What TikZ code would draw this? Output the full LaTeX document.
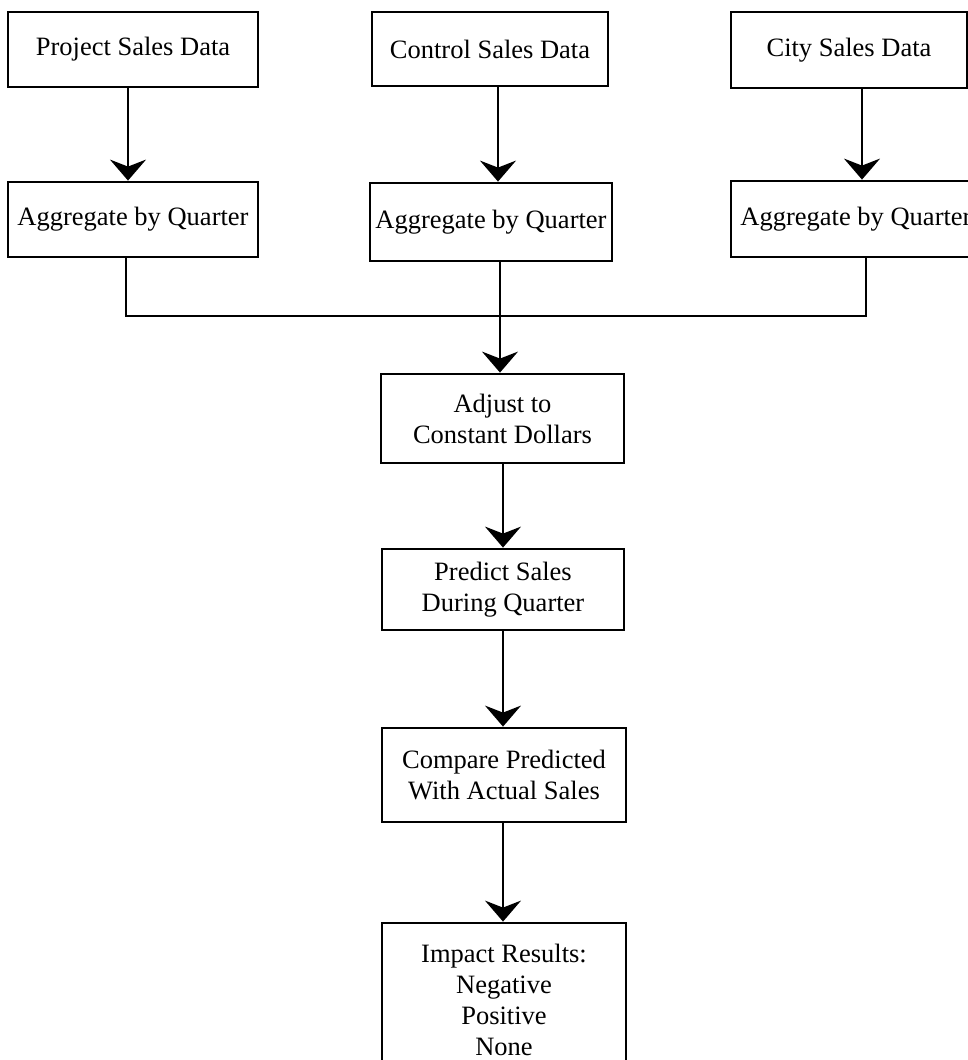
\documentclass[tikz,border=0pt]{standalone}
\usepackage{fontspec}
\setmainfont{Liberation Serif}
\usetikzlibrary{arrows.meta}
\begin{document}
\begin{tikzpicture}[x=1pt,y=-1pt,
  box/.style={draw, line width=2.8pt, inner sep=0pt, align=center,
    font=\fontsize{26.5}{31}\selectfont},
  link/.style={line width=2pt},
  arr/.style={link, -{Stealth[length=21pt, width=36pt, inset=7pt]}}]
\useasboundingbox (0,0) rectangle (968,1060);
\clip (0,0) rectangle (968,1060);
\fill[white] (0,0) rectangle (968,1060);

% data sources
\node[box, minimum width=250pt, minimum height=75pt] (p1) at (133,49.5) {Project Sales Data};
\node[box, minimum width=236pt, minimum height=74pt] (c1) at (490,49) {Control Sales Data};
\node[box, minimum width=236pt, minimum height=76pt] (y1) at (849,50) {City Sales Data};

% quarterly aggregation
\node[box, minimum width=250pt, minimum height=75pt] (p2) at (133,219.5) {Aggregate by Quarter};
\node[box, minimum width=242pt, minimum height=78pt] (c2) at (491,222) {Aggregate by Quarter};
\node[box, minimum width=250pt, minimum height=76pt] (y2) at (856,219) {Aggregate by Quarter};

% processing chain
\node[box, minimum width=243pt, minimum height=89pt] (adj) at (502.5,418.5) {Adjust to\\Constant Dollars};
\node[box, minimum width=242pt, minimum height=81pt] (pred) at (503,589.5) {Predict Sales\\During Quarter};
\node[box, minimum width=244pt, minimum height=94pt] (cmp) at (504,775) {Compare Predicted\\With Actual Sales};
\node[box, minimum width=244pt, minimum height=154pt] (imp) at (504,1000) {Impact Results:\\Negative\\Positive\\None};

% column positions of the connectors
\coordinate (px) at (128,0);
\coordinate (cx) at (498,0);
\coordinate (yx) at (862,0);
\coordinate (pb) at (126,0);
\coordinate (cb) at (500,0);
\coordinate (yb) at (866,0);
\coordinate (bus) at (500,316);
\coordinate (lx) at (503,0);

\draw[arr] (p1.south -| px) -- (p2.north -| px);
\draw[arr] (c1.south -| cx) -- (c2.north -| cx);
\draw[arr] (y1.south -| yx) -- (y2.north -| yx);

\draw[link] (p2.south -| pb) |- (bus) -| (y2.south -| yb);
\draw[arr] (c2.south -| cb) -- (adj.north -| cb);

\draw[arr] (adj.south -| lx) -- (pred.north -| lx);
\draw[arr] (pred.south -| lx) -- (cmp.north -| lx);
\draw[arr] (cmp.south -| lx) -- (imp.north -| lx);
\end{tikzpicture}
\end{document}
